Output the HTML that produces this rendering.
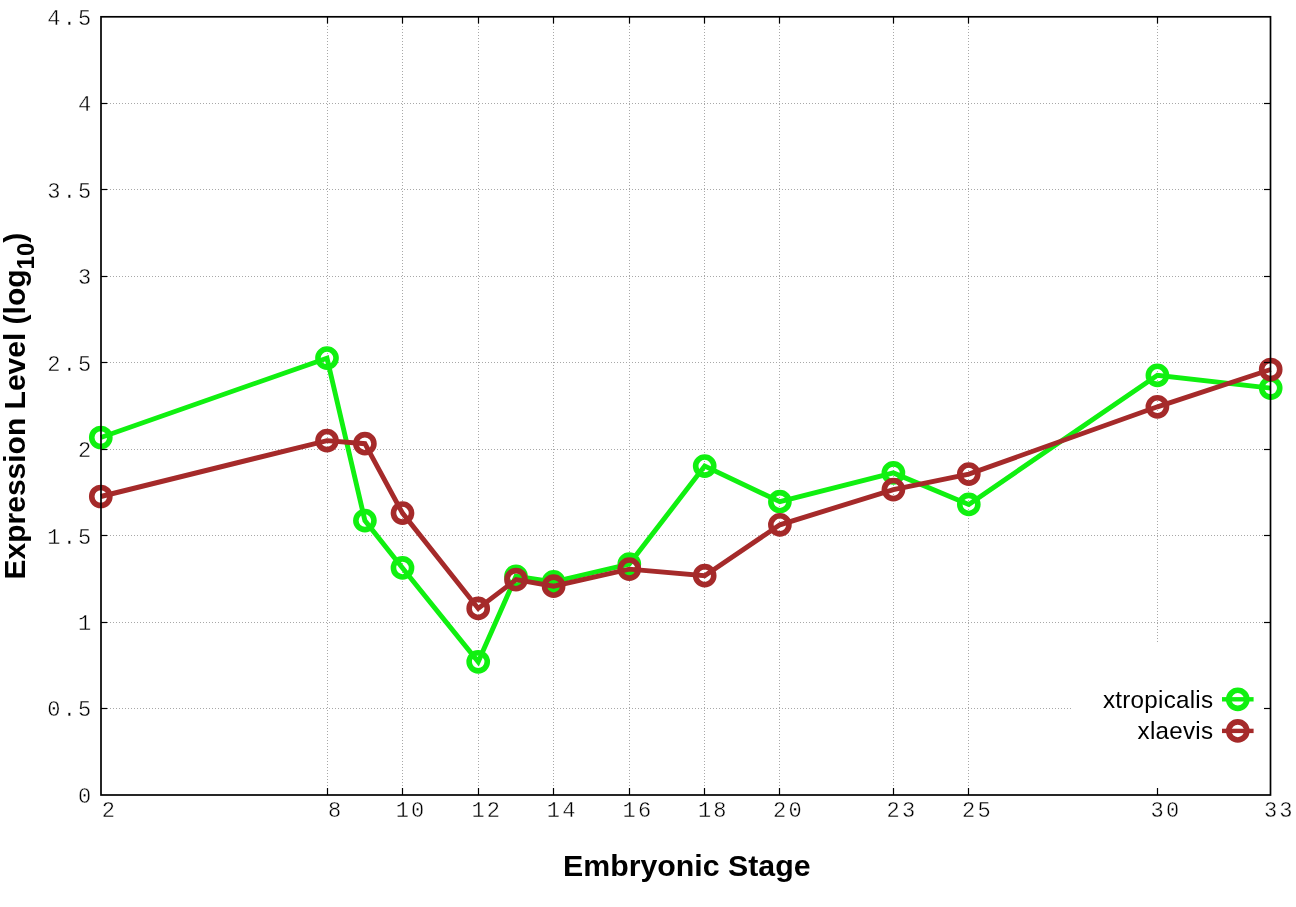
<!DOCTYPE html>
<html><head><meta charset="utf-8"><title>Expression Level</title>
<style>html,body{margin:0;padding:0;background:#fff;overflow:hidden}svg{display:block}.tl{font-family:"Liberation Mono",monospace;font-size:22px;letter-spacing:2.2px;fill:#000;stroke:#fff;stroke-width:0.4px}.ky{letter-spacing:0.25px}.ti{font-family:"Liberation Sans",Arial,sans-serif;font-weight:bold;font-size:30px;fill:#000}.ky{font-family:"Liberation Sans",Arial,sans-serif;font-size:24.2px;fill:#000}</style></head><body>
<svg width="1296" height="907" viewBox="0 0 1296 907">
<rect width="1296" height="907" fill="#fff"/>
<g stroke="#a8a8a8" stroke-width="1" stroke-dasharray="1 2" fill="none">
<line x1="104" y1="708.5" x2="1269" y2="708.5"/>
<line x1="104" y1="622.5" x2="1269" y2="622.5"/>
<line x1="104" y1="535.5" x2="1269" y2="535.5"/>
<line x1="104" y1="449.5" x2="1269" y2="449.5"/>
<line x1="104" y1="362.5" x2="1269" y2="362.5"/>
<line x1="104" y1="276.5" x2="1269" y2="276.5"/>
<line x1="104" y1="189.5" x2="1269" y2="189.5"/>
<line x1="104" y1="103.5" x2="1269" y2="103.5"/>
<line x1="327.5" y1="792" x2="327.5" y2="18"/>
<line x1="402.5" y1="792" x2="402.5" y2="18"/>
<line x1="478.5" y1="792" x2="478.5" y2="18"/>
<line x1="553.5" y1="792" x2="553.5" y2="18"/>
<line x1="629.5" y1="792" x2="629.5" y2="18"/>
<line x1="704.5" y1="792" x2="704.5" y2="18"/>
<line x1="779.5" y1="792" x2="779.5" y2="18"/>
<line x1="893.5" y1="792" x2="893.5" y2="18"/>
<line x1="968.5" y1="792" x2="968.5" y2="18"/>
<line x1="1157.5" y1="792" x2="1157.5" y2="18"/>
</g>
<rect x="1071" y="642" width="199" height="153" fill="#fff"/>
<polyline points="100.8,437.5 327.0,358.1 364.9,520.6 402.5,567.9 478.2,661.8 516.0,576.3 553.6,581.8 629.3,564.1 704.7,466.1 779.9,501.7 893.4,472.9 968.8,504.4 1157.4,375.3 1270.7,388.1" fill="none" stroke="rgb(16,240,16)" stroke-width="4.9" stroke-linejoin="miter" stroke-miterlimit="3"/>
<g fill="none" stroke="rgb(16,240,16)" stroke-width="5.6">
<circle cx="100.8" cy="437.5" r="9.05"/>
<circle cx="327.0" cy="358.1" r="9.05"/>
<circle cx="364.9" cy="520.6" r="9.05"/>
<circle cx="402.5" cy="567.9" r="9.05"/>
<circle cx="478.2" cy="661.8" r="9.05"/>
<circle cx="516.0" cy="576.3" r="9.05"/>
<circle cx="553.6" cy="581.8" r="9.05"/>
<circle cx="629.3" cy="564.1" r="9.05"/>
<circle cx="704.7" cy="466.1" r="9.05"/>
<circle cx="779.9" cy="501.7" r="9.05"/>
<circle cx="893.4" cy="472.9" r="9.05"/>
<circle cx="968.8" cy="504.4" r="9.05"/>
<circle cx="1157.4" cy="375.3" r="9.05"/>
<circle cx="1270.7" cy="388.1" r="9.05"/>
</g>
<polyline points="100.8,496.5 327.0,440.6 364.9,443.7 402.5,513.1 478.2,608.4 516.0,579.7 553.6,586.2 629.3,569.1 704.7,575.7 779.9,524.8 893.4,489.6 968.8,474.1 1157.4,406.8 1270.7,369.5" fill="none" stroke="rgb(165,42,42)" stroke-width="4.9" stroke-linejoin="miter" stroke-miterlimit="3"/>
<g fill="none" stroke="rgb(165,42,42)" stroke-width="5.6">
<circle cx="100.8" cy="496.5" r="9.05"/>
<circle cx="327.0" cy="440.6" r="9.05"/>
<circle cx="364.9" cy="443.7" r="9.05"/>
<circle cx="402.5" cy="513.1" r="9.05"/>
<circle cx="478.2" cy="608.4" r="9.05"/>
<circle cx="516.0" cy="579.7" r="9.05"/>
<circle cx="553.6" cy="586.2" r="9.05"/>
<circle cx="629.3" cy="569.1" r="9.05"/>
<circle cx="704.7" cy="575.7" r="9.05"/>
<circle cx="779.9" cy="524.8" r="9.05"/>
<circle cx="893.4" cy="489.6" r="9.05"/>
<circle cx="968.8" cy="474.1" r="9.05"/>
<circle cx="1157.4" cy="406.8" r="9.05"/>
<circle cx="1270.7" cy="369.5" r="9.05"/>
</g>
<text class="ky" x="1213.3" y="707.8" text-anchor="end">xtropicalis</text>
<text class="ky" x="1213.3" y="738.8" text-anchor="end">xlaevis</text>
<line x1="1222" y1="699.3" x2="1253.6" y2="699.3" stroke="rgb(16,240,16)" stroke-width="4.4"/>
<circle cx="1237.8" cy="699.3" r="9.05" fill="none" stroke="rgb(16,240,16)" stroke-width="5.6"/>
<line x1="1222" y1="730.9" x2="1253.6" y2="730.9" stroke="rgb(165,42,42)" stroke-width="4.4"/>
<circle cx="1237.8" cy="730.9" r="9.05" fill="none" stroke="rgb(165,42,42)" stroke-width="5.6"/>
<g stroke="#000" stroke-width="1.2" fill="none">
<line x1="101" y1="708.5" x2="107.3" y2="708.5"/><line x1="1264" y1="708.5" x2="1270" y2="708.5"/>
<line x1="101" y1="622.5" x2="107.3" y2="622.5"/><line x1="1264" y1="622.5" x2="1270" y2="622.5"/>
<line x1="101" y1="535.5" x2="107.3" y2="535.5"/><line x1="1264" y1="535.5" x2="1270" y2="535.5"/>
<line x1="101" y1="449.5" x2="107.3" y2="449.5"/><line x1="1264" y1="449.5" x2="1270" y2="449.5"/>
<line x1="101" y1="362.5" x2="107.3" y2="362.5"/><line x1="1264" y1="362.5" x2="1270" y2="362.5"/>
<line x1="101" y1="276.5" x2="107.3" y2="276.5"/><line x1="1264" y1="276.5" x2="1270" y2="276.5"/>
<line x1="101" y1="189.5" x2="107.3" y2="189.5"/><line x1="1264" y1="189.5" x2="1270" y2="189.5"/>
<line x1="101" y1="103.5" x2="107.3" y2="103.5"/><line x1="1264" y1="103.5" x2="1270" y2="103.5"/>
<line x1="327.5" y1="795" x2="327.5" y2="788"/><line x1="327.5" y1="17" x2="327.5" y2="23.5"/>
<line x1="402.5" y1="795" x2="402.5" y2="788"/><line x1="402.5" y1="17" x2="402.5" y2="23.5"/>
<line x1="478.5" y1="795" x2="478.5" y2="788"/><line x1="478.5" y1="17" x2="478.5" y2="23.5"/>
<line x1="553.5" y1="795" x2="553.5" y2="788"/><line x1="553.5" y1="17" x2="553.5" y2="23.5"/>
<line x1="629.5" y1="795" x2="629.5" y2="788"/><line x1="629.5" y1="17" x2="629.5" y2="23.5"/>
<line x1="704.5" y1="795" x2="704.5" y2="788"/><line x1="704.5" y1="17" x2="704.5" y2="23.5"/>
<line x1="779.5" y1="795" x2="779.5" y2="788"/><line x1="779.5" y1="17" x2="779.5" y2="23.5"/>
<line x1="893.5" y1="795" x2="893.5" y2="788"/><line x1="893.5" y1="17" x2="893.5" y2="23.5"/>
<line x1="968.5" y1="795" x2="968.5" y2="788"/><line x1="968.5" y1="17" x2="968.5" y2="23.5"/>
<line x1="1157.5" y1="795" x2="1157.5" y2="788"/><line x1="1157.5" y1="17" x2="1157.5" y2="23.5"/>
</g>
<rect x="101" y="16.8" width="1169.5" height="778.2" fill="none" stroke="#000" stroke-width="1.7"/>
<text class="tl" x="93.5" y="802.8" text-anchor="end">0</text>
<text class="tl" x="93.5" y="716.4" text-anchor="end">0.5</text>
<text class="tl" x="93.5" y="629.9" text-anchor="end">1</text>
<text class="tl" x="93.5" y="543.5" text-anchor="end">1.5</text>
<text class="tl" x="93.5" y="457.0" text-anchor="end">2</text>
<text class="tl" x="93.5" y="370.6" text-anchor="end">2.5</text>
<text class="tl" x="93.5" y="284.1" text-anchor="end">3</text>
<text class="tl" x="93.5" y="197.7" text-anchor="end">3.5</text>
<text class="tl" x="93.5" y="111.2" text-anchor="end">4</text>
<text class="tl" x="93.5" y="24.8" text-anchor="end">4.5</text>
<text class="tl" x="109.4" y="816.7" text-anchor="middle">2</text>
<text class="tl" x="335.6" y="816.7" text-anchor="middle">8</text>
<text class="tl" x="411.1" y="816.7" text-anchor="middle">10</text>
<text class="tl" x="486.8" y="816.7" text-anchor="middle">12</text>
<text class="tl" x="562.2" y="816.7" text-anchor="middle">14</text>
<text class="tl" x="637.9" y="816.7" text-anchor="middle">16</text>
<text class="tl" x="713.3" y="816.7" text-anchor="middle">18</text>
<text class="tl" x="788.5" y="816.7" text-anchor="middle">20</text>
<text class="tl" x="902.0" y="816.7" text-anchor="middle">23</text>
<text class="tl" x="977.4" y="816.7" text-anchor="middle">25</text>
<text class="tl" x="1166.0" y="816.7" text-anchor="middle">30</text>
<text class="tl" x="1279.3" y="816.7" text-anchor="middle">33</text>
<text class="ti" x="686.8" y="875.5" text-anchor="middle" style="font-size:30.3px">Embryonic Stage</text>
<text class="ti" transform="translate(24.8,579.5) rotate(-90)" x="0" y="0">Expression Level (log<tspan font-size="24px" dy="9">10</tspan><tspan dy="-9">)</tspan></text>
</svg></body></html>
